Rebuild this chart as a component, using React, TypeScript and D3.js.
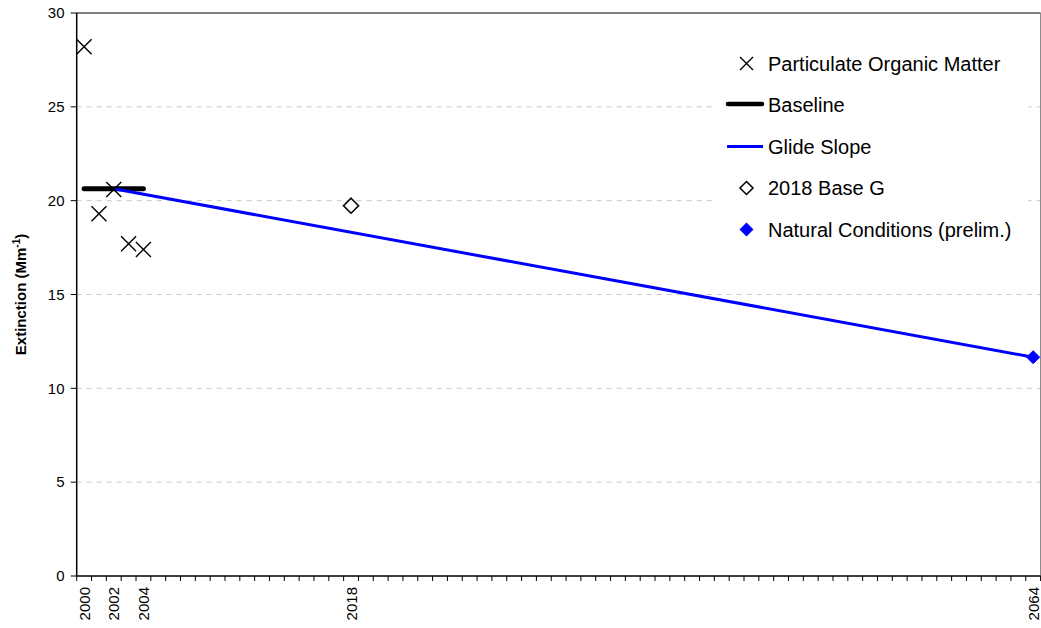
import React from "react";
import * as d3 from "d3";

const years: number[] = d3.range(2000, 2065);
const xTickLabels = [2000, 2002, 2004, 2018, 2064];
const yTicks = [0, 5, 10, 15, 20, 25, 30];

const pomYears = [2000, 2001, 2002, 2003, 2004];
const pomValues = [28.2, 19.3, 20.6, 17.7, 17.4];

const baselineYears = [2000, 2004];
const baselineValues = [20.63, 20.63];

const glideYears = [2002, 2064];
const glideValues = [20.63, 11.66];

const baseGYears = [2018];
const baseGValues = [19.73];

const naturalYears = [2064];
const naturalValues = [11.66];

const legendItems = [
  "Particulate Organic Matter",
  "Baseline",
  "Glide Slope",
  "2018 Base G",
  "Natural Conditions (prelim.)",
];

export default function App() {
  const W = 1041, H = 628;
  const left = 76.7, right = 1040.6, top = 13, bottom = 576;
  const x = d3.scaleBand<number>().domain(years).range([left, right]).paddingInner(0).paddingOuter(0);
  const cx = (yr: number) => (x(yr) as number) + x.bandwidth() / 2;
  const y = d3.scaleLinear().domain([0, 30]).range([bottom, top]);
  const font = "'Liberation Sans', Arial, sans-serif";

  const line = d3.line<[number, number]>().x((d) => cx(d[0])).y((d) => y(d[1]));
  const xMark = (px: number, py: number, s: number, key: string) => (
    <path key={key} d={`M${px - s},${py - s}L${px + s},${py + s}M${px - s},${py + s}L${px + s},${py - s}`} stroke="#000" strokeWidth={1.4} fill="none" />
  );
  const diamond = (px: number, py: number, s: number) => `M${px},${py - s}L${px + s},${py}L${px},${py + s}L${px - s},${py}Z`;

  const legX = 746.5, legText = 768, legY0 = 63.5, legDy = 41.5;

  return (
    <svg width={W} height={H} style={{ position: "absolute", left: 0, top: 0, background: "#fff" }} fontFamily={font}>
      <rect x={0} y={0} width={W} height={H} fill="#fff" />
      {/* gridlines */}
      {yTicks.filter((t) => t > 0 && t < 30).map((t) => (
        <line key={"g" + t} x1={left} x2={right} y1={y(t)} y2={y(t)} stroke="#c8c8c8" strokeWidth={1} strokeDasharray="5,5" />
      ))}
      {/* plot border */}
      <line x1={left} x2={right} y1={top} y2={top} stroke="#000" strokeWidth={1} />
      <line x1={right} x2={right} y1={top} y2={bottom} stroke="#808080" strokeWidth={1} />
      {/* legend background */}
      <rect x={712} y={40} width={316} height={212} fill="#fff" />

      {/* y axis */}
      <line x1={left} x2={left} y1={top} y2={bottom} stroke="#000" strokeWidth={1.5} />
      {yTicks.map((t) => (
        <g key={"y" + t}>
          <line x1={left - 6} x2={left} y1={y(t)} y2={y(t)} stroke="#000" strokeWidth={1} />
          <text x={64.5} y={y(t)} dy="0.35em" textAnchor="end" fontSize={15} fill="#000">{t}</text>
        </g>
      ))}
      <text transform={`translate(26,${(top + bottom) / 2}) rotate(-90)`} textAnchor="middle" fontSize={15} fontWeight="bold" fill="#000">
        Extinction (Mm<tspan dy={-6} fontSize={10}>-1</tspan><tspan dy={6}>)</tspan>
      </text>

      {/* x axis */}
      <line x1={left} x2={right} y1={bottom} y2={bottom} stroke="#000" strokeWidth={1.5} />
      {years.map((yr) => (
        <line key={"xt" + yr} x1={x(yr) as number} x2={x(yr) as number} y1={bottom} y2={bottom + 5} stroke="#000" strokeWidth={1} />
      ))}
      <line x1={right} x2={right} y1={bottom} y2={bottom + 5} stroke="#000" strokeWidth={1} />
      {xTickLabels.map((yr) => (
        <text key={"xl" + yr} transform={`translate(${cx(yr) + 5.5},${bottom + 11}) rotate(-90)`} textAnchor="end" fontSize={15} fill="#000">{yr}</text>
      ))}

      {/* baseline */}
      <path d={line(baselineYears.map((yr, i) => [yr, baselineValues[i]]) as any) as string} stroke="#000" strokeWidth={5} strokeLinecap="round" fill="none" />
      {/* glide slope */}
      <path d={line(glideYears.map((yr, i) => [yr, glideValues[i]]) as any) as string} stroke="#0000ff" strokeWidth={3} fill="none" />
      {/* POM */}
      {pomYears.map((yr, i) => xMark(cx(yr), y(pomValues[i]), 7.5, "p" + i))}
      {/* 2018 base G */}
      {baseGYears.map((yr, i) => (
        <path key={"b" + i} d={diamond(cx(yr), y(baseGValues[i]), 7.5)} fill="#fff" stroke="#000" strokeWidth={1.6} />
      ))}
      {/* natural */}
      {naturalYears.map((yr, i) => (
        <path key={"n" + i} d={diamond(cx(yr), y(naturalValues[i]), 6.5)} fill="#0000ff" stroke="#0000ff" strokeWidth={1} />
      ))}

      {/* legend */}
      {legendItems.map((name, i) => {
        const ly = legY0 + i * legDy;
        let sym: React.ReactNode = null;
        if (i === 0) sym = xMark(legX, ly, 6.5, "lx");
        if (i === 1) sym = <line x1={728} x2={762} y1={ly - 1} y2={ly - 1} stroke="#000" strokeWidth={4.5} strokeLinecap="round" />;
        if (i === 2) sym = <line x1={727} x2={763} y1={ly} y2={ly} stroke="#0000ff" strokeWidth={3} />;
        if (i === 3) sym = <path d={diamond(legX, ly, 6.5)} fill="#fff" stroke="#000" strokeWidth={1.5} />;
        if (i === 4) sym = <path d={diamond(legX, ly, 7)} fill="#0000ff" />;
        return (
          <g key={"l" + i}>
            {sym}
            <text x={legText} y={ly} dy="0.35em" fontSize={20} fill="#000">{name}</text>
          </g>
        );
      })}
    </svg>
  );
}
